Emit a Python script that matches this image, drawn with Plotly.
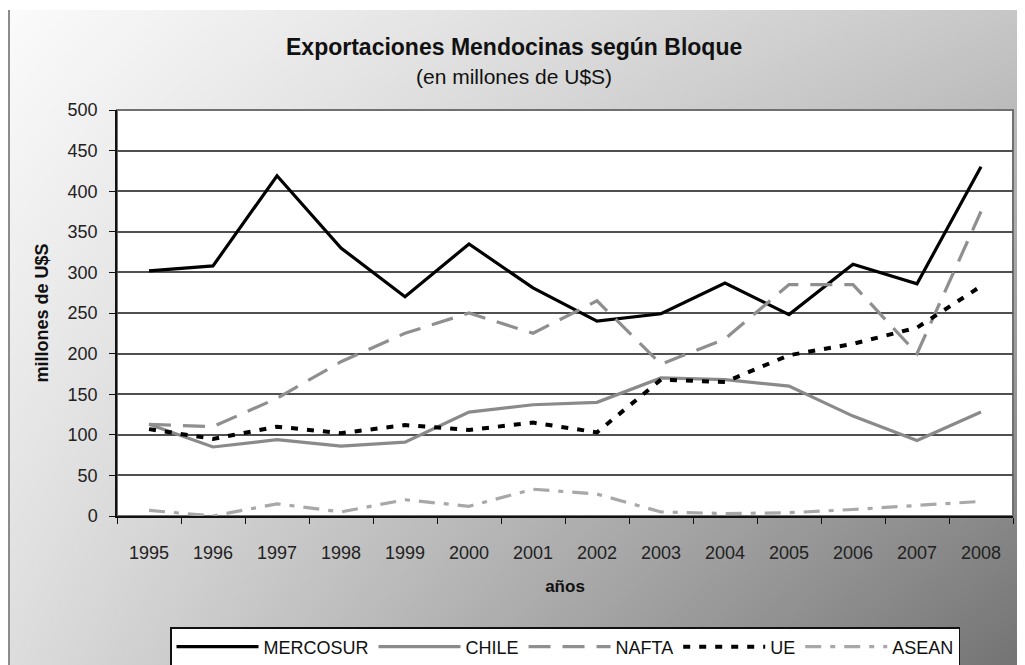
import base64, struct, zlib
import numpy as np
import plotly.graph_objects as go

years = [str(y) for y in range(1995, 2009)]
mercosur = [302, 308, 419, 330, 270, 335, 281, 240, 249, 287, 248, 310, 286, 430]
chile    = [113, 85, 94, 86, 91, 128, 137, 140, 170, 168, 160, 123, 93, 128]
nafta    = [113, 110, 145, 190, 225, 250, 225, 265, 187, 218, 285, 285, 200, 375]
ue       = [107, 95, 110, 102, 112, 106, 115, 103, 168, 165, 198, 212, 232, 283]
asean    = [7, 0, 15, 5, 20, 12, 33, 27, 5, 3, 4, 8, 13, 18]

OFF = 8  # page body margin of the html page
W, H = 1025 - OFF, 665 - OFF
# plot area in screenshot pixels: x 117..1013, y 110..516
ML, MT = 117 - OFF, 110 - OFF
MR, MB = 1025 - 1013, 665 - 516
PW, PH = W - ML - MR, H - MT - MB

def px(x):  # screenshot x -> paper x
    return (x - OFF - ML) / PW

def py(y):  # screenshot y -> paper y
    return (H - MB - (y - OFF)) / PH

# ---- background gradient as PNG data URI ----
def make_bg():
    sx = np.arange(W)[None, :] + OFF
    sy = np.arange(H)[:, None] + OFF
    xs = sx / 1025.0
    ys = sy / 665.0
    tl, tr, bl, br = 252, 200, 222, 115
    c = tl*(1-xs)*(1-ys) + tr*xs*(1-ys) + bl*(1-xs)*ys + br*xs*ys
    c = np.broadcast_to(c, (H, W)).copy()
    c[sy[:, 0] < 10, :] = 255
    c[:, (sx[0] >= 8) & (sx[0] < 10)] = np.where(sy >= 10, 140, 255)
    img = np.clip(c, 0, 255).astype(np.uint8)
    rgb = np.repeat(img[:, :, None], 3, axis=2)
    raw = b''.join(b'\x00' + rgb[y].tobytes() for y in range(H))
    def chunk(t, d):
        return struct.pack('>I', len(d)) + t + d + struct.pack('>I', zlib.crc32(t + d) & 0xffffffff)
    png = b'\x89PNG\r\n\x1a\n' + chunk(b'IHDR', struct.pack('>IIBBBBB', W, H, 8, 2, 0, 0, 0)) \
        + chunk(b'IDAT', zlib.compress(raw, 9)) + chunk(b'IEND', b'')
    return 'data:image/png;base64,' + base64.b64encode(png).decode()

FONT = "Liberation Sans, Arial"

fig = go.Figure()
series = [
    ("MERCOSUR", mercosur, dict(color="#000000", width=3.2, dash="solid")),
    ("CHILE", chile, dict(color="#8a8a8a", width=3.2, dash="solid")),
    ("NAFTA", nafta, dict(color="#8f8f8f", width=3.2, dash="22px,12px")),
    ("UE", ue, dict(color="#000000", width=4, dash="7px,9px")),
    ("ASEAN", asean, dict(color="#a8a8a8", width=3.2, dash="16px,9px,5px,9px")),
]
for name, vals, line in series:
    fig.add_trace(go.Scatter(x=years, y=vals, mode="lines", name=name, line=line))

fig.update_layout(
    width=W, height=H,
    margin=dict(l=ML, r=MR, t=MT, b=MB, autoexpand=False),
    paper_bgcolor="white", plot_bgcolor="rgba(0,0,0,0)",
    font=dict(family=FONT, size=16, color="#222"),
    showlegend=True,
    legend=dict(orientation="h", x=px(170), xanchor="left",
                y=py(627), yanchor="top",
                bgcolor="white", bordercolor="#111", borderwidth=1.5,
                font=dict(family=FONT, size=18, color="#111"),
                itemwidth=82, tracegroupgap=0),
    images=[dict(source=make_bg(), xref="paper", yref="paper",
                 x=-ML / PW, y=1 + MT / PH, sizex=W / PW, sizey=H / PH,
                 xanchor="left", yanchor="top", sizing="stretch", layer="below")],
    shapes=[dict(type="rect", xref="paper", yref="paper", x0=0, x1=1, y0=0, y1=1,
                 fillcolor="white", line=dict(color="#707070", width=2), layer="below")],
    annotations=[
        dict(text="<b>Exportaciones Mendocinas según Bloque</b>", xref="paper", yref="paper",
             x=px(514), y=py(47), xanchor="center", yanchor="middle",
             showarrow=False, font=dict(family=FONT, size=23, color="#111")),
        dict(text="(en millones de U$S)", xref="paper", yref="paper",
             x=px(514), y=py(76), xanchor="center", yanchor="middle",
             showarrow=False, font=dict(family=FONT, size=21, color="#111")),
    ],
)

fig.update_xaxes(
    type="category", tickson="boundaries", ticks="outside", ticklen=6, tickcolor="#111",
    showline=True, linecolor="#111", linewidth=1.5, showgrid=False, automargin=False,
    range=[-0.5, 13.5], tickfont=dict(family=FONT, size=18, color="#222"),
    ticklabelstandoff=20,
    title=dict(text="<b>años</b>", font=dict(family=FONT, size=17, color="#111"), standoff=18),
)
fig.update_yaxes(
    range=[0, 500], dtick=50, ticks="outside", ticklen=6, tickcolor="#111",
    showline=True, linecolor="#111", linewidth=1.5, automargin=False,
    showgrid=True, gridcolor="#505050", gridwidth=1.5, zeroline=False,
    tickfont=dict(family=FONT, size=18, color="#222"), ticklabelstandoff=8,
    title=dict(text="<b>millones de U$S</b>", font=dict(family=FONT, size=18, color="#111"), standoff=14),
)

fig.write_html("out.html")
